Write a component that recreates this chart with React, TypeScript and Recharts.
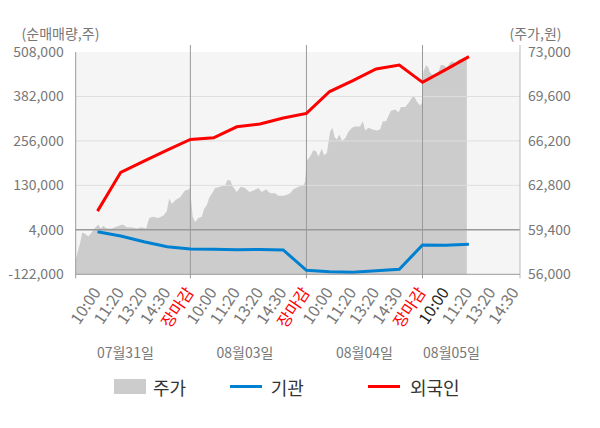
import React from 'react';
import { ComposedChart, Area, Line, XAxis, YAxis, CartesianGrid, ReferenceLine, Legend } from 'recharts';

const FONT = '"Noto Sans CJK KR", "Noto Sans", sans-serif';

const slotTicks = [1, 2, 3, 4, 5, 6, 7, 8, 9, 10, 11, 12, 13, 14, 15, 16, 17, 18, 19];
const slotLabels = [
  '10:00', '11:20', '13:20', '14:30', '장마감',
  '10:00', '11:20', '13:20', '14:30', '장마감',
  '10:00', '11:20', '13:20', '14:30', '장마감',
  '10:00', '11:20', '13:20', '14:30',
];
const dayTicks = [2.2, 7.35, 12.5, 16.25];
const dayLabels = ['07월31일', '08월03일', '08월04일', '08월05일'];
const dayBoundaries = [5, 10, 15];

const leftTicks = [-122000, 4000, 130000, 256000, 382000, 508000];
const rightTicks = [56000, 59400, 62800, 66200, 69600, 73000];

const flowSlots = [1, 2, 3, 4, 5, 6, 7, 8, 9, 10, 11, 12, 13, 14, 15, 16, 17];
const foreignNet = [57000, 167000, 199000, 230000, 260000, 265000, 296000, 304000, 321000, 334000, 396000, 427000, 460000, 471000, 422000, 458000, 495000];
const institutionNet = [-1300, -13500, -29600, -43800, -50300, -51100, -52500, -51500, -53000, -110700, -114600, -116300, -111800, -107800, -39000, -39800, -37000];

const priceTime = [
  0.06, 0.13, 0.17, 0.25, 0.34, 0.46, 0.6, 0.71, 0.82, 1.03, 1.14, 1.25, 1.4, 1.61, 1.9, 2.09, 2.26, 2.47, 2.69, 2.9,
  3.09, 3.23, 3.4, 3.62, 3.84, 3.98, 4.09, 4.2, 4.38, 4.56, 4.77, 4.96, 4.99,
  5.03, 5.1, 5.2, 5.34, 5.49, 5.59, 5.71, 5.82, 5.97, 6.06, 6.28, 6.5, 6.59, 6.71, 6.83, 7.0, 7.17, 7.36, 7.54, 7.72,
  7.93, 8.08, 8.26, 8.44, 8.65, 8.79, 9.01, 9.18, 9.3, 9.44, 9.65, 9.87, 9.94,
  10.02, 10.16, 10.3, 10.42, 10.52, 10.66, 10.76, 10.88, 10.95, 11.02, 11.12, 11.21, 11.31, 11.42, 11.53, 11.67, 11.81,
  11.96, 12.1, 12.31, 12.43, 12.53, 12.67, 12.82, 13.03, 13.18, 13.29, 13.43, 13.53, 13.64, 13.82, 13.97, 14.07, 14.25,
  14.4, 14.54, 14.64, 14.76, 14.9, 14.97,
  15.04, 15.16, 15.26, 15.3, 15.4, 15.55, 15.69, 15.79, 15.9, 16.05, 16.19, 16.31, 16.41, 16.55, 16.7, 16.81, 16.91,
];
const priceValue = [
  57100, 57600, 57900, 58400, 59200, 59100, 58900, 59100, 59400, 59800, 59500, 59700, 59500, 59500, 59700, 59800, 59600, 59600, 59500, 59600,
  59500, 60300, 60400, 60300, 60500, 60800, 61800, 61400, 61700, 61900, 62400, 62500, 62700,
  61700, 60400, 60000, 60300, 60400, 61000, 61300, 61900, 62300, 62600, 62700, 62800, 63200, 63200, 62700, 62300, 62700, 62600, 62300, 62400,
  62600, 62300, 62500, 62200, 62200, 62000, 62000, 62100, 62200, 62500, 62700, 62800, 63100,
  64700, 65000, 65500, 65400, 65000, 65600, 65100, 65300, 66100, 66900, 67200, 66500, 66300, 66700, 66200, 66400, 66900,
  67200, 67300, 67300, 67700, 67000, 67200, 67100, 67000, 67100, 67700, 67700, 68100, 68500, 68600, 68400, 68800, 68800,
  69100, 69500, 69600, 69200, 68900, 69100,
  71500, 72000, 71800, 71500, 71300, 71200, 71500, 72000, 72000, 71800, 72200, 72300, 72100, 72400, 72500, 72600, 72600,
];

const priceData = priceTime.map((t, i) => ({ t, price: priceValue[i] }));
const flowData = flowSlots.map((t, i) => ({ t, foreign: foreignNet[i], inst: institutionNet[i] }));

const X_DOMAIN: [number, number] = [0.06, 19.2];
const fmt = (v: number) => v.toLocaleString('en-US');

const SlotTick = (props: any) => {
  const { x, y, payload } = props;
  const idx = slotTicks.indexOf(payload.value);
  const label = slotLabels[idx];
  const color = label === '장마감' ? '#ff0000' : payload.value === 16 ? '#222222' : '#777777';
  return (
    <g transform={`translate(${x + 4},${y + 10})`}>
      <text textAnchor="end" transform="rotate(-56)" fill={color} fontSize={16} fontFamily={FONT}>
        {label}
      </text>
    </g>
  );
};

const DayTick = (props: any) => {
  const { x, y, payload } = props;
  const label = dayLabels[dayTicks.indexOf(payload.value)];
  return (
    <text x={x} y={y} dy={12} textAnchor="middle" fill="#777777" fontSize={14} fontFamily={FONT}>
      {label}
    </text>
  );
};

const extendedLine = (up: number, down: number) => (p: any) => (
  <line
    x1={p.x1}
    x2={p.x2}
    y1={Math.min(p.y1, p.y2) - up}
    y2={Math.max(p.y1, p.y2) + down}
    stroke={p.stroke}
    strokeWidth={p.strokeWidth}
  />
);

const leftUnit = (props: any) => {
  const vb = props.viewBox || {};
  return (
    <text x={vb.x + vb.width - 15.2} y={vb.y - 19.5} textAnchor="middle" dominantBaseline="central" fill="#777777" fontSize={14} fontFamily={FONT}>
      (순매매량,주)
    </text>
  );
};

const rightUnit = (props: any) => {
  const vb = props.viewBox || {};
  return (
    <text x={vb.x + 15.5} y={vb.y - 19.5} textAnchor="middle" dominantBaseline="central" fill="#777777" fontSize={14} fontFamily={FONT}>
      (주가,원)
    </text>
  );
};

const renderLegend = () => (
  <div style={{ position: 'relative', height: 22, fontFamily: FONT, fontSize: 18, color: '#333333' }}>
    <span style={{ position: 'absolute', left: 106.3, top: 3.5, width: 32, height: 15, background: '#cccccc' }} />
    <span style={{ position: 'absolute', left: 145, top: 0, lineHeight: '22px' }}>주가</span>
    <span style={{ position: 'absolute', left: 222, top: 9.5, width: 32, height: 3, background: '#0080d0' }} />
    <span style={{ position: 'absolute', left: 262.7, top: 0, lineHeight: '22px' }}>기관</span>
    <span style={{ position: 'absolute', left: 360.3, top: 9.5, width: 32, height: 3, background: '#ff0000' }} />
    <span style={{ position: 'absolute', left: 402, top: 0, lineHeight: '22px' }}>외국인</span>
  </div>
);

export default function App() {
  return (
    <div style={{ width: 592, height: 412 }}>
      <ComposedChart width={592} height={412} margin={{ top: 44, right: 0, bottom: 52, left: 0 }} style={{ fontFamily: FONT }}>
        <CartesianGrid yAxisId="left" horizontal={false} vertical={false} fill="#f5f5f5" stroke="none" />
        <XAxis
          dataKey="t"
          type="number"
          domain={X_DOMAIN}
          allowDataOverflow
          ticks={slotTicks}
          interval={0}
          tickLine={false}
          axisLine={{ stroke: '#999999' }}
          height={63.7}
          tick={<SlotTick />}
        />
        <XAxis
          xAxisId="date"
          dataKey="t"
          type="number"
          domain={X_DOMAIN}
          allowDataOverflow
          ticks={dayTicks}
          interval={0}
          tickLine={false}
          axisLine={false}
          height={30}
          tick={<DayTick />}
        />
        <YAxis
          yAxisId="left"
          orientation="left"
          width={67.7}
          type="number"
          domain={[-122000, 508000]}
          allowDataOverflow
          ticks={leftTicks}
          interval={0}
          tickLine={false}
          axisLine={false}
          tickMargin={6}
          tickFormatter={fmt}
          tick={{ fill: '#777777', fontSize: 14, fontFamily: FONT }}
          label={leftUnit}
        />
        <YAxis
          yAxisId="right"
          orientation="right"
          width={80}
          type="number"
          domain={[56000, 73000]}
          allowDataOverflow
          ticks={rightTicks}
          interval={0}
          tickLine={false}
          axisLine={false}
          tickFormatter={fmt}
          tick={{ fill: '#777777', fontSize: 14, fontFamily: FONT }}
          label={rightUnit}
        />
        <Area
          yAxisId="right"
          data={priceData}
          dataKey="price"
          type="linear"
          fill="#cccccc"
          fillOpacity={1}
          stroke="none"
          isAnimationActive={false}
          name="주가"
        />
        {leftTicks.slice(2, 5).map((v) => (
          <ReferenceLine key={v} yAxisId="left" y={v} stroke="#dedede" strokeWidth={1} />
        ))}
        <ReferenceLine yAxisId="left" y={4000} stroke="#999999" strokeWidth={1.5} />
        {dayBoundaries.map((d) => (
          <ReferenceLine key={d} yAxisId="left" x={d} stroke="#999999" strokeWidth={1} shape={extendedLine(7, 4)} />
        ))}
        <ReferenceLine yAxisId="left" x={X_DOMAIN[0]} stroke="#999999" strokeWidth={1} shape={extendedLine(0, 4)} />
        <ReferenceLine yAxisId="left" x={X_DOMAIN[1]} stroke="#bbbbbb" strokeWidth={1} shape={extendedLine(7, 4)} />
        <Line
          yAxisId="left"
          data={flowData}
          dataKey="inst"
          type="linear"
          stroke="#0080d0"
          strokeWidth={3}
          dot={false}
          isAnimationActive={false}
          name="기관"
        />
        <Line
          yAxisId="left"
          data={flowData}
          dataKey="foreign"
          type="linear"
          stroke="#ff0000"
          strokeWidth={3}
          dot={false}
          isAnimationActive={false}
          name="외국인"
        />
        <Legend
          layout="horizontal"
          verticalAlign="middle"
          align="center"
          wrapperStyle={{ top: 367.7, left: 0, width: 592 }}
          content={renderLegend}
        />
      </ComposedChart>
    </div>
  );
}
